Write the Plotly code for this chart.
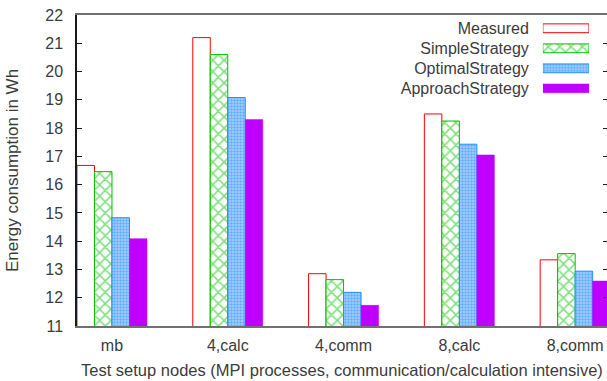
import plotly.graph_objects as go

# Test setups (x categories)
setups = ["mb", "4,calc", "4,comm", "8,calc", "8,comm"]

# Energy consumption in Wh per setup
measured = [16.68, 21.20, 12.85, 18.50, 13.34]
simple_strategy = [16.46, 20.60, 12.64, 18.25, 13.56]
optimal_strategy = [14.83, 19.08, 12.19, 17.43, 12.94]
approach_strategy = [14.09, 18.30, 11.73, 17.05, 12.59]

series_names = ["Measured", "SimpleStrategy", "OptimalStrategy", "ApproachStrategy"]
series_values = [measured, simple_strategy, optimal_strategy, approach_strategy]

y_ticks = list(range(11, 23))

FONT = "Liberation Sans, Arial, sans-serif"
TEXT = "#3c3c3c"

styles = {
    "Measured": dict(color="white", line=dict(color="#ff0000", width=1)),
    "SimpleStrategy": dict(
        color="white",
        line=dict(color="#00c000", width=1),
        pattern=dict(shape="x", fgcolor="#00c000", bgcolor="white",
                     size=8, solidity=0.35, fillmode="overlay"),
    ),
    "OptimalStrategy": dict(
        color="#a8d2ff",
        line=dict(color="#1e90ff", width=1),
        pattern=dict(shape=".", fgcolor="#1e88ff", bgcolor="#a8d2ff",
                     size=3, solidity=0.5, fillmode="overlay"),
    ),
    "ApproachStrategy": dict(color="#c000ff", line=dict(color="#c000ff", width=0.5)),
}

fig = go.Figure()

# Clustered bars
for name, vals in zip(series_names, series_values):
    fig.add_trace(go.Bar(
        x=setups, y=vals, name=name, marker=styles[name],
        showlegend=False, xaxis="x", yaxis="y",
    ))

# Key: one short horizontal sample bar per series on its own small axes,
# series names shown as that axis's tick labels (text left, sample right)
for name in series_names:
    fig.add_trace(go.Bar(
        y=[name], x=[1], orientation="h", marker=styles[name],
        width=0.44, offset=-0.22, showlegend=False,
        xaxis="x3", yaxis="y3", hoverinfo="skip",
    ))

# Mirrored inside ticks on the right edge
fig.add_trace(go.Scatter(x=[None], y=[None], xaxis="x", yaxis="y2",
                         showlegend=False, hoverinfo="skip"))

fig.update_layout(
    width=607, height=381,
    margin=dict(l=77, r=0, t=15, b=55),
    paper_bgcolor="white", plot_bgcolor="white",
    barmode="group", bargap=0.3955, bargroupgap=0,
    font=dict(family=FONT, size=16, color=TEXT),
    showlegend=False,
    xaxis=dict(
        type="category", range=[-0.302, 4.275],
        showgrid=False, zeroline=False,
        showline=True, linecolor="#707070", linewidth=1.5, mirror=True,
        ticks="", ticklabelstandoff=4,
        tickfont=dict(family=FONT, size=16, color=TEXT),
    ),
    yaxis=dict(
        range=[11, 22], tickvals=y_ticks, showgrid=False, zeroline=False,
        showline=True, linecolor="#1a1a1a", linewidth=1.5,
        ticks="inside", ticklen=5, tickcolor="#1a1a1a", tickwidth=1,
        ticklabelstandoff=9,
        tickfont=dict(family=FONT, size=16, color=TEXT),
        title=dict(text="Energy consumption in Wh",
                   font=dict(family=FONT, size=17, color=TEXT), standoff=22),
    ),
    yaxis2=dict(
        overlaying="y", side="right", matches="y", range=[11, 22],
        tickvals=y_ticks, showticklabels=False, showline=False,
        showgrid=False, zeroline=False,
        ticks="inside", ticklen=4, tickcolor="#1a1a1a", tickwidth=1,
    ),
    xaxis3=dict(
        domain=[0.879, 0.966], anchor="y3", range=[0, 1],
        visible=False, fixedrange=True,
    ),
    yaxis3=dict(
        domain=[0.732, 0.9895], anchor="x3", type="category",
        categoryorder="array", categoryarray=series_names[::-1],
        showgrid=False, zeroline=False, showline=False, ticks="",
        ticklabelstandoff=13,
        tickfont=dict(family=FONT, size=16, color=TEXT),
    ),
    annotations=[dict(
        text="Test setup nodes (MPI processes, communication/calculation intensive)",
        xref="paper", yref="paper", x=0.5, y=0, xanchor="center", yanchor="top",
        yshift=-33, showarrow=False,
        font=dict(family=FONT, size=16.5, color=TEXT),
    )],
)

fig.write_html("out.html")
